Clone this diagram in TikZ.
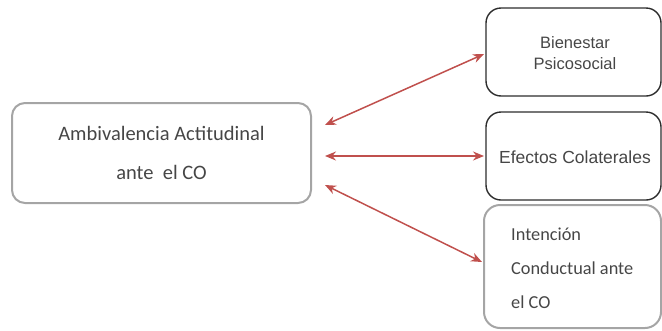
\documentclass[tikz,border=0pt]{standalone}
\usepackage{fontspec}
\setmainfont{Carlito}
\newfontfamily\arialf{Liberation Sans}
\usetikzlibrary{arrows.meta}
\definecolor{arrowred}{RGB}{192,80,77}
\definecolor{boxgray}{RGB}{165,165,165}
\definecolor{boxdark}{RGB}{45,45,45}
\definecolor{txtgray}{RGB}{70,70,70}
\tikzset{
  graybox/.style={draw=boxgray, line width=2pt, rounded corners=13pt, inner sep=0pt},
  darkbox/.style={draw=boxdark, line width=1.4pt, rounded corners=15pt, inner sep=0pt},
  link/.style={draw=arrowred, line width=1.5pt, {Stealth[length=11pt,width=9pt]}-{Stealth[length=11pt,width=9pt]}},
  lbl/.style={text=txtgray, inner sep=0pt}
}
\begin{document}
\begin{tikzpicture}[x=1pt,y=-1pt]
\useasboundingbox (0,0) rectangle (662,330);
% boxes
\node[graybox, minimum width=299pt, minimum height=100pt] (L) at (161.5,153) {};
\node[darkbox, minimum width=175pt, minimum height=88pt] (B1) at (573.5,52) {};
\node[darkbox, minimum width=175pt, minimum height=88pt] (B2) at (573.5,156) {};
\node[graybox, rounded corners=16pt, minimum width=177pt, minimum height=123pt] (B3) at (572.5,266.5) {};
% texts
\node[lbl, align=center, font=\fontsize{20.5}{39}\selectfont] (Lt) at (L.center) {Ambivalencia Actitudinal\\ante\ \ el CO};
\node[lbl, align=center, font=\arialf\fontsize{16.5}{21}\selectfont] (B1t) at (575,53) {Bienestar\\Psicosocial};
\node[lbl, align=center, font=\arialf\fontsize{17.5}{21}\selectfont] (B2t) at (575,157) {Efectos Colaterales};
\node[lbl, align=left, anchor=west, font=\fontsize{18.3}{34}\selectfont] (B3t) at (511,268) {Intención\\Conductual ante\\el CO};
% connector end points
\coordinate (a1s) at (325,125);
\coordinate (a1e) at (484,54);
\coordinate (a2s) at (325,156);
\coordinate (a2e) at (484,156);
\coordinate (a3s) at (325,185);
\coordinate (a3e) at (482,262);
\draw[link] (a1s) -- (a1e);
\draw[link] (a2s) -- (a2e);
\draw[link] (a3s) -- (a3e);
\end{tikzpicture}
\end{document}
